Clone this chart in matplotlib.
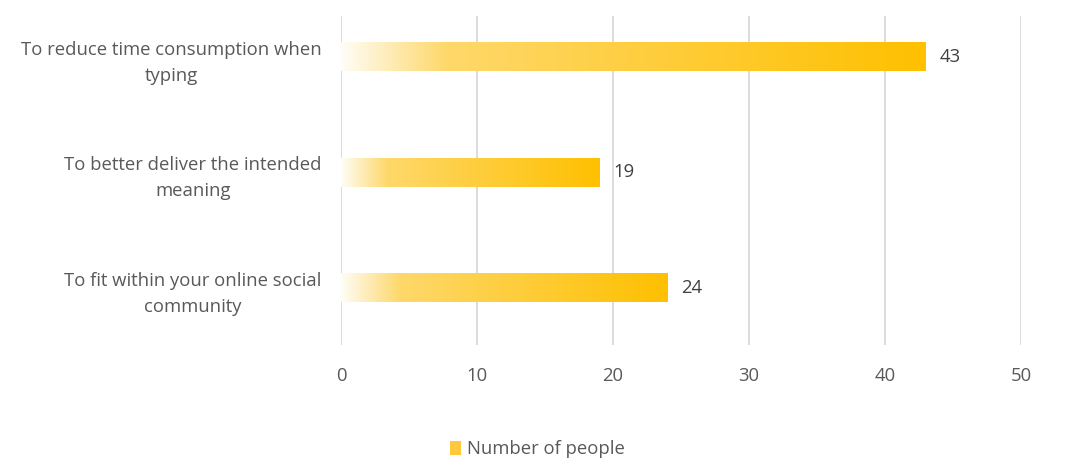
import numpy as np
import matplotlib
matplotlib.use("Agg")
import matplotlib.pyplot as plt
from matplotlib.colors import LinearSegmentedColormap
from matplotlib.patches import Patch

# data
categories = ["To reduce time consumption when\ntyping",
              "To better deliver the intended\nmeaning",
              "To fit within your online social\ncommunity"]
values = [43, 19, 24]
x_ticks = [0, 10, 20, 30, 40, 50]
series_name = "Number of people"

plt.rcParams['font.family'] = ['Open Sans', 'DejaVu Sans']
text_col = '#595959'
fs = 13.3

fig = plt.figure(figsize=(10.79, 4.71), dpi=100)
ax = fig.add_axes([341 / 1079, 1 - 345 / 471, 680 / 1079, 329 / 471])

# white -> yellow -> orange gradient like the excel fill
cmap = LinearSegmentedColormap.from_list(
    "excel_gold", [(0.0, '#FFFDF6'), (0.18, '#FED86A'), (1.0, '#FFC000')])
grad = np.linspace(0, 1, 256).reshape(1, -1)

bar_h = 0.245
ypos = np.arange(len(categories))
for y, v in zip(ypos, values):
    ax.imshow(grad, cmap=cmap, aspect='auto', zorder=3,
              extent=[0, v, y + bar_h / 2, y - bar_h / 2], interpolation='bilinear')
    ax.text(v + 1.0, y, str(v), va='center', ha='left', fontsize=fs, color='#404040')

ax.set_xlim(0, 50)
ax.set_ylim(2.494, -0.355)
ax.set_xticks(x_ticks)
ax.set_yticks(ypos)
ax.set_yticklabels(categories, multialignment='center', linespacing=1.55)
ax.tick_params(axis='both', length=0, labelsize=fs, labelcolor=text_col)
ax.tick_params(axis='y', pad=14)
ax.tick_params(axis='x', pad=16)
ax.grid(axis='x', color='#D9D9D9', linewidth=1.3, zorder=0)
ax.set_axisbelow(True)
for s in ax.spines.values():
    s.set_visible(False)

handle = Patch(facecolor='#FFC83D', edgecolor='none')
fig.legend([handle], [series_name], loc='center', bbox_to_anchor=(0.498, 1 - 449 / 471),
           frameon=False, fontsize=fs, labelcolor=text_col,
           handlelength=0.6, handleheight=0.8, handletextpad=0.3)

fig.savefig("out.png", dpi=100)
